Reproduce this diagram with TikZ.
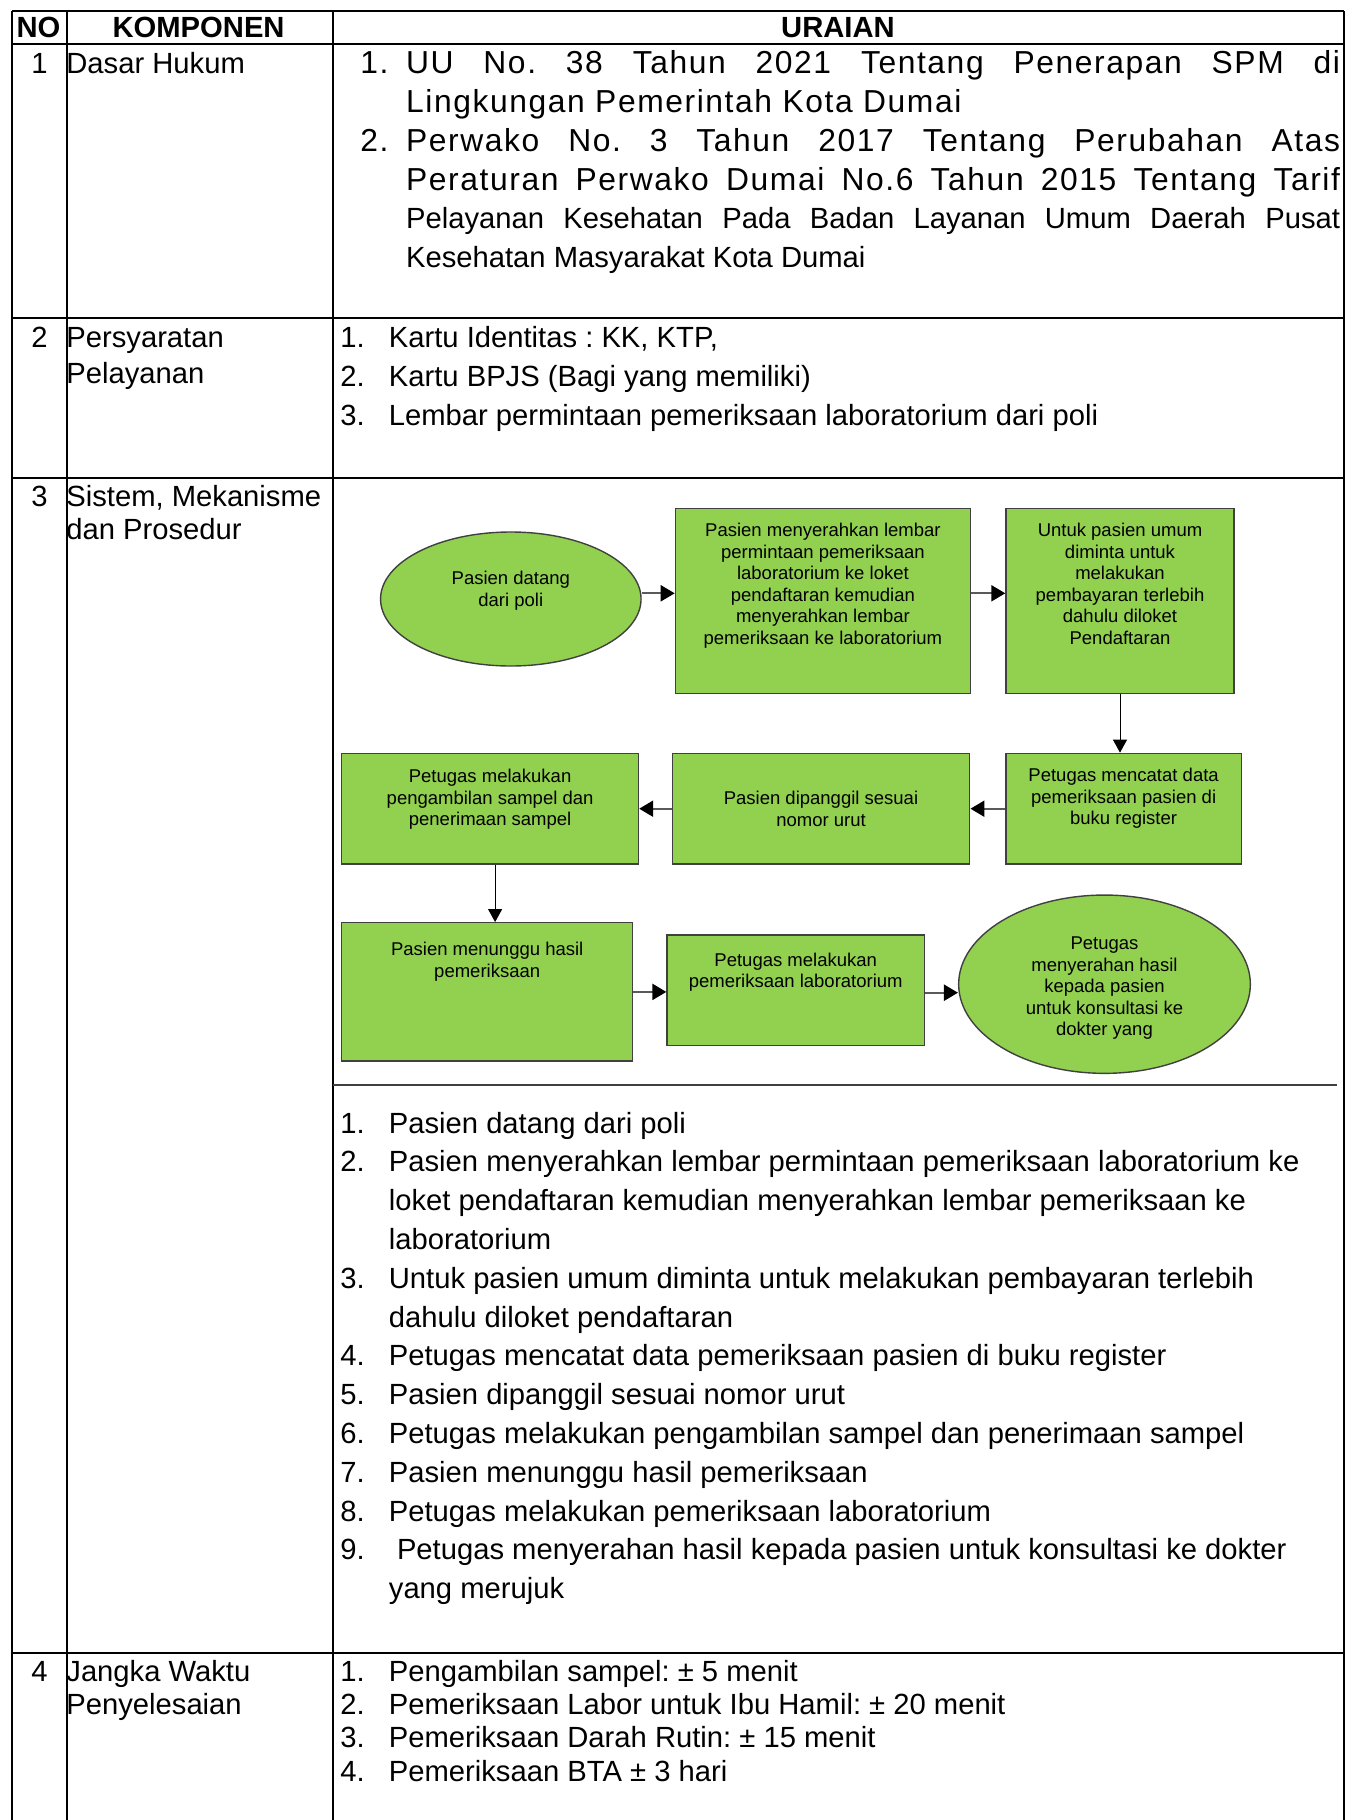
\documentclass[tikz,border=0pt]{standalone}
\usepackage{fontspec}
\setmainfont{Liberation Sans}
\newfontfamily\widefont[LetterSpace=5]{Liberation Sans}
\usetikzlibrary{positioning,shapes.geometric,arrows.meta}
\frenchspacing

\definecolor{boxgreen}{HTML}{92D050}
\definecolor{linegray}{HTML}{404040}
\definecolor{shaftgray}{HTML}{5A5A5A}

\tikzset{
    tabline/.style={line width=1pt},
    head/.style={inner sep=0pt, anchor=base, font=\fontsize{14.6}{17}\selectfont\bfseries},
    num/.style={inner sep=0pt, anchor=base, font=\fontsize{14.6}{17}\selectfont},
    cell/.style={inner sep=0pt, anchor=base west, font=\fontsize{14.6}{17}\selectfont},
    wide/.style={inner sep=0pt, anchor=base west, font=\widefont\fontsize{15.9}{18}\selectfont},
    flowbox/.style={draw=linegray, fill=boxgreen, line width=0.7pt, inner sep=0pt},
    flowoval/.style={ellipse, draw=linegray, fill=boxgreen, line width=0.7pt, inner sep=0pt},
    flowtxt/.style={inner sep=0pt, align=center, font=\fontsize{9.25}{10.8}\selectfont},
    harrow/.style={draw=shaftgray, line width=1.1pt, -{Triangle[length=7pt,width=8pt,color=black]}},
    varrow/.style={draw=black, line width=0.5pt, -{Triangle[length=6.5pt,width=7pt]}}
}

\begin{document}
\begin{tikzpicture}[x=0.5pt,y=-0.5pt]
    \useasboundingbox (0,0) rectangle (1346,1820);

    % table lines
    \draw[tabline] (12,11) -- (1344,11);
    \draw[tabline] (12,43.5) -- (1344,43.5);
    \draw[tabline] (12,318) -- (1344,318);
    \draw[tabline] (12,478) -- (1344,478);
    \draw[tabline] (12,1653) -- (1344,1653);
    \draw[tabline] (12,11) -- (12,1820);
    \draw[tabline] (67,11) -- (67,1820);
    \draw[tabline] (333,11) -- (333,1820);
    \draw[tabline] (1344,11) -- (1344,1820);
    \draw[tabline, draw=linegray] (333,1085) -- (1337,1085);

    % header
    \node[head] (hno) at (38.5,37.8) {NO};
    \node[head] (hkomp) at (198.6,37.8) {KOMPONEN};
    \node[head] (hurai) at (838,37.8) {URAIAN};

    % numbers
    \node[num] (no1) at (39.5,73.7) {1};
    \node[num] (no2) at (39.5,347.7) {2};
    \node[num] (no3) at (39.5,506) {3};
    \node[num] (no4) at (39.5,1681.3) {4};

    % komponen
    \node[cell] (komp1) at (66,73.7) {Dasar Hukum};
    \node[cell] (komp2a) at (66,347.7) {Persyaratan};
    \node[cell] (komp2b) at (66,383) {Pelayanan};
    \node[cell] (komp3a) at (66,506) {Sistem, Mekanisme};
    \node[cell] (komp3b) at (66,539.6) {dan Prosedur};
    \node[cell] (komp4a) at (66,1681.3) {Jangka Waktu};
    \node[cell] (komp4b) at (66,1714.6) {Penyelesaian};

    % uraian 1
    \node[wide] (dh1n) at (360,73.7) {1.};
    \node[wide] (dh1a) at (405.7,73.7) {\makebox[467pt][s]{UU No. 38 Tahun 2021 Tentang Penerapan SPM di}};
    \node[wide] (dh1b) at (405.7,112.5) {Lingkungan Pemerintah Kota Dumai};
    \node[wide] (dh2n) at (360,151.3) {2.};
    \node[wide] (dh2a) at (405.7,151.3) {\makebox[467pt][s]{Perwako No. 3 Tahun 2017 Tentang Perubahan Atas}};
    \node[wide] (dh2b) at (405.7,190.1) {\makebox[467pt][s]{Peraturan Perwako Dumai No.6 Tahun 2015 Tentang Tarif}};
    \node[cell] (dh2c) at (405.7,228.9) {\makebox[467pt][s]{Pelayanan Kesehatan Pada Badan Layanan Umum Daerah Pusat}};
    \node[cell] (dh2d) at (405.7,267.7) {Kesehatan Masyarakat Kota Dumai};

    % uraian 2
    \node[cell] (ps1n) at (340,347.7) {1.};
    \node[cell] (ps1) at (388.5,347.7) {Kartu Identitas : KK, KTP,};
    \node[cell] (ps2n) at (340,386.5) {2.};
    \node[cell] (ps2) at (388.5,386.5) {Kartu BPJS (Bagi yang memiliki)};
    \node[cell] (ps3n) at (340,425.3) {3.};
    \node[cell] (ps3) at (388.5,425.3) {Lembar permintaan pemeriksaan laboratorium dari poli};

    % flow chart
    \node[flowoval, minimum width=130.25pt, minimum height=67pt] (e1) at (510.8,599) {};
    \node[flowbox, minimum width=147.5pt, minimum height=92.5pt] (b2) at (822.9,600.8) {};
    \node[flowbox, minimum width=114pt, minimum height=92.5pt] (b3) at (1120,600.8) {};
    \node[flowbox, minimum width=117.6pt, minimum height=55.35pt] (b4) at (1123.6,808.7) {};
    \node[flowbox, minimum width=148.75pt, minimum height=55.35pt] (b5) at (821,808.7) {};
    \node[flowbox, minimum width=148.4pt, minimum height=55.35pt] (b6) at (490.1,808.7) {};
    \node[flowbox, minimum width=145.5pt, minimum height=69.15pt] (b7) at (487.2,991.9) {};
    \node[flowbox, minimum width=128.65pt, minimum height=55.15pt] (b8) at (795.7,990.2) {};
    \node[flowoval, minimum width=145.85pt, minimum height=89.15pt] (e9) at (1104.5,984.2) {};

    \node[flowtxt] (t1) at ([yshift=4pt]e1.center) {Pasien datang\\dari poli};
    \node[flowtxt, below=7.5pt of b2.north] (t2) {Pasien menyerahkan lembar\\permintaan pemeriksaan\\laboratorium ke loket\\pendaftaran kemudian\\menyerahkan lembar\\pemeriksaan ke laboratorium};
    \node[flowtxt, below=7.5pt of b3.north] (t3) {Untuk pasien umum\\diminta untuk\\melakukan\\pembayaran terlebih\\dahulu diloket\\Pendaftaran};
    \node[flowtxt, below=7.5pt of b4.north] (t4) {Petugas mencatat data\\pemeriksaan pasien di\\buku register};
    \node[flowtxt, below=19pt of b5.north] (t5) {Pasien dipanggil sesuai\\nomor urut};
    \node[flowtxt, below=8pt of b6.north] (t6) {Petugas melakukan\\pengambilan sampel dan\\penerimaan sampel};
    \node[flowtxt, below=10pt of b7.north] (t7) {Pasien menunggu hasil\\pemeriksaan};
    \node[flowtxt, below=9pt of b8.north] (t8) {Petugas melakukan\\pemeriksaan laboratorium};
    \node[flowtxt] (t9) at ([yshift=-2pt]e9.center) {Petugas\\menyerahan hasil\\kepada pasien\\untuk konsultasi ke\\dokter yang};

    % arrows
    \draw[harrow] ([yshift=2.85pt]e1.east) -- ([yshift=2.85pt]e1.east -| b2.west);
    \draw[harrow] ([yshift=3.75pt]b2.east) -- ([yshift=3.75pt]b2.east -| b3.west);
    \draw[varrow] (b3.south) -- (b3.south |- b4.north);
    \draw[harrow] (b4.west) -- (b4.west -| b5.east);
    \draw[harrow] (b5.west) -- (b5.west -| b6.east);
    \draw[varrow] ([xshift=2.5pt]b6.south) -- ([xshift=2.5pt]b6.south |- b7.north);
    \draw[harrow] (b7.east) -- (b7.east -| b8.west);
    \draw[harrow] ([yshift=-1.25pt]b8.east) -- ([yshift=-1.25pt]b8.east -| e9.west);

    % uraian 3
    \node[cell] (sm1n) at (340,1133) {1.};
    \node[cell] (sm1) at (388.5,1133) {Pasien datang dari poli};
    \node[cell] (sm2n) at (340,1171.8) {2.};
    \node[cell] (sm2a) at (388.5,1171.8) {Pasien menyerahkan lembar permintaan pemeriksaan laboratorium ke};
    \node[cell] (sm2b) at (388.5,1210.6) {loket pendaftaran kemudian menyerahkan lembar pemeriksaan ke};
    \node[cell] (sm2c) at (388.5,1249.4) {laboratorium};
    \node[cell] (sm3n) at (340,1288.2) {3.};
    \node[cell] (sm3a) at (388.5,1288.2) {Untuk pasien umum diminta untuk melakukan pembayaran terlebih};
    \node[cell] (sm3b) at (388.5,1327) {dahulu diloket pendaftaran};
    \node[cell] (sm4n) at (340,1365.8) {4.};
    \node[cell] (sm4) at (388.5,1365.8) {Petugas mencatat data pemeriksaan pasien di buku register};
    \node[cell] (sm5n) at (340,1404.6) {5.};
    \node[cell] (sm5) at (388.5,1404.6) {Pasien dipanggil sesuai nomor urut};
    \node[cell] (sm6n) at (340,1443.4) {6.};
    \node[cell] (sm6) at (388.5,1443.4) {Petugas melakukan pengambilan sampel dan penerimaan sampel};
    \node[cell] (sm7n) at (340,1482.2) {7.};
    \node[cell] (sm7) at (388.5,1482.2) {Pasien menunggu hasil pemeriksaan};
    \node[cell] (sm8n) at (340,1521) {8.};
    \node[cell] (sm8) at (388.5,1521) {Petugas melakukan pemeriksaan laboratorium};
    \node[cell] (sm9n) at (340,1559.8) {9.};
    \node[cell] (sm9a) at (388.5,1559.8) {\ Petugas menyerahan hasil kepada pasien untuk konsultasi ke dokter};
    \node[cell] (sm9b) at (388.5,1598.6) {yang merujuk};

    % uraian 4
    \node[cell] (jw1n) at (340,1681.3) {1.};
    \node[cell] (jw1) at (388.5,1681.3) {Pengambilan sampel: ± 5 menit};
    \node[cell] (jw2n) at (340,1714.6) {2.};
    \node[cell] (jw2) at (388.5,1714.6) {Pemeriksaan Labor untuk Ibu Hamil: ± 20 menit};
    \node[cell] (jw3n) at (340,1747.9) {3.};
    \node[cell] (jw3) at (388.5,1747.9) {Pemeriksaan Darah Rutin: ± 15 menit};
    \node[cell] (jw4n) at (340,1781.2) {4.};
    \node[cell] (jw4) at (388.5,1781.2) {Pemeriksaan BTA ± 3 hari};

\end{tikzpicture}
\end{document}
